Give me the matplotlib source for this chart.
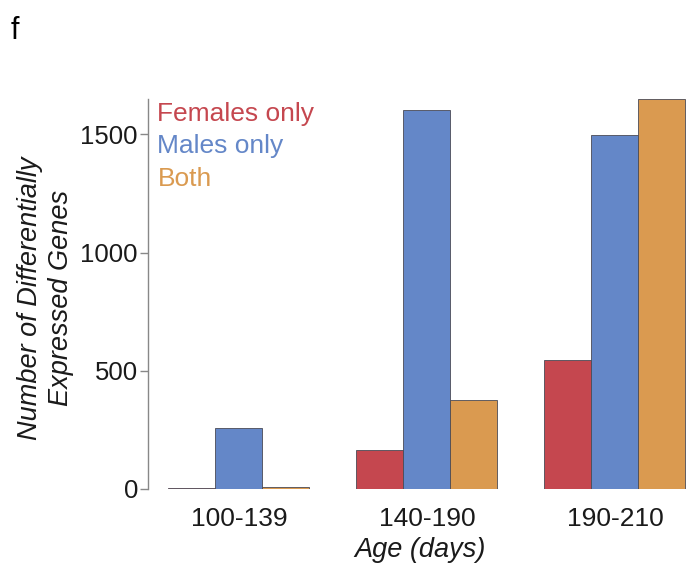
import numpy as np
import matplotlib
matplotlib.use("Agg")
import matplotlib.pyplot as plt

plt.rcParams['font.family'] = ['Liberation Sans', 'DejaVu Sans']

age_groups = ["100-139", "140-190", "190-210"]
series_names = ["Females only", "Males only", "Both"]
females_only = [3, 165, 545]
males_only = [259, 1602, 1499]
both = [10, 376, 1648]
colors = ["#C5474F", "#6487C8", "#DA9A50"]

fig = plt.figure(figsize=(6.93, 5.64), dpi=100)
ax = fig.add_axes([0.2131, 0.133, 0.787, 0.6915])

x = np.arange(len(age_groups))
width = 0.25
for i, (vals, col) in enumerate(zip([females_only, males_only, both], colors)):
    ax.bar(x + (i - 1) * width, vals, width, color=col,
           edgecolor="#4a4a55", linewidth=0.6)

ax.set_xlim(-0.485, 2.4155)
ax.set_ylim(0, 1650)
ax.set_yticks([0, 500, 1000, 1500])
ax.set_xticks(x)
ax.set_xticklabels(age_groups)
ax.tick_params(axis='y', labelsize=18.5, length=6, color="#888888", width=1,
               pad=1, labelcolor="#1a1a1a")
ax.tick_params(axis='x', labelsize=19, length=0, pad=13, labelcolor="#1a1a1a")
for s in ["top", "right", "bottom"]:
    ax.spines[s].set_visible(False)
ax.spines["left"].set_color("#888888")
ax.spines["left"].set_linewidth(1)

ax.set_ylabel("Number of Differentially\nExpressed Genes", fontsize=19.5,
              style="italic", color="#1a1a1a", linespacing=1.25)
ax.yaxis.set_label_coords(-0.135, 0.49)
ax.set_xlabel("Age (days)", fontsize=19.5, style="italic", labelpad=4,
              color="#1a1a1a")

# Coloured text legend in the upper-left corner
for j, (name, col) in enumerate(zip(series_names, colors)):
    ax.text(0.018, 0.992 - j * 0.083, name, transform=ax.transAxes,
            color=col, fontsize=19, va="top", ha="left")

fig.text(0.016, 0.972, "f", fontsize=22, va="top", ha="left")

fig.savefig("out.png", dpi=100)
